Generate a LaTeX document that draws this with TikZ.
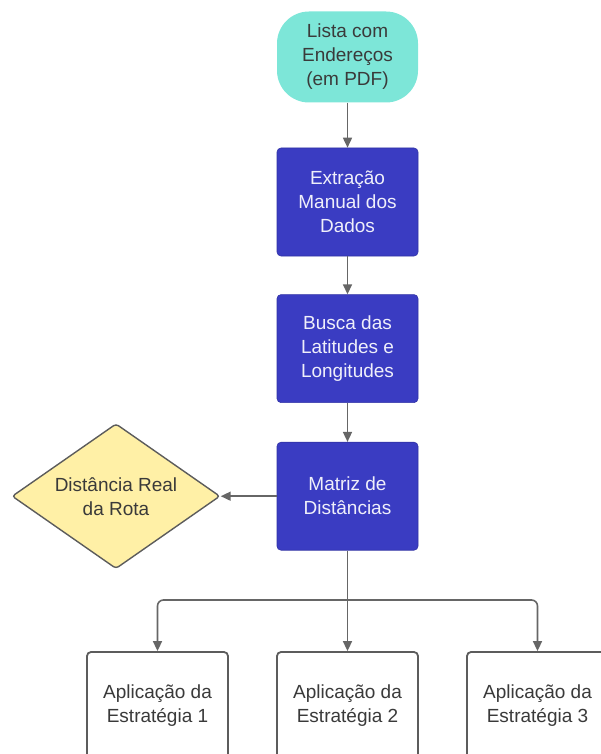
\documentclass[tikz,border=0pt]{standalone}
\usepackage{fontspec}
\setmainfont{Liberation Sans}
\usepackage{tikz}
\usetikzlibrary{positioning,shapes.geometric,arrows.meta}

\definecolor{turquesa}{HTML}{7DE6D8}
\definecolor{azul}{HTML}{3A3CC2}
\definecolor{amarelo}{HTML}{FFF0A6}
\definecolor{cinza}{HTML}{666666}
\definecolor{texto}{HTML}{3A3A3A}

\tikzset{
  base/.style={align=center, font=\fontsize{19}{24}\selectfont, inner sep=0pt},
  inicio/.style={base, fill=turquesa, text=texto, rounded corners=32pt,
    minimum width=141pt, minimum height=91pt},
  passo/.style={base, fill=azul, draw=azul!85!black, line width=0.6pt, text=white!92!azul,
    rounded corners=4pt, minimum width=141pt, minimum height=108pt},
  decisao/.style={base, diamond, aspect=1.43, fill=amarelo, draw=cinza!90!black,
    line width=1.4pt, text=texto, rounded corners=3pt,
    minimum width=208pt, minimum height=145pt},
  aplic/.style={base, fill=white, draw=cinza!90!black, line width=1.8pt, text=texto,
    rounded corners=4pt, minimum width=141pt, minimum height=108pt},
  linha/.style={draw=cinza, line width=1.6pt},
  seta/.style={linha, -{Triangle[length=10pt,width=9pt]}}
}

\begin{document}
\begin{tikzpicture}[x=1pt,y=1pt]
    \useasboundingbox (0,0) rectangle (600,-754);

    % Fluxo principal
    \node [inicio] (lista) at (347.5,-57) {Lista com\\Endereços\\(em PDF)};
    \node [passo, below=45pt of lista] (extracao) {Extração\\Manual dos\\Dados};
    \node [passo, below=38pt of extracao] (busca) {Busca das\\Latitudes e\\Longitudes};
    \node [passo, below=39pt of busca] (matriz) {Matriz de\\Distâncias};

    \draw [seta] (lista) -- (extracao);
    \draw [seta] (extracao) -- (busca);
    \draw [seta] (busca) -- (matriz);

    % Distancia real
    \node [decisao, left=56pt of matriz] (real) {Distância Real\\da Rota};
    \draw [seta] (matriz) -- (real);

    % Estrategias
    \node [aplic] (ap1) at (157.5,-706) {Aplicação da\\Estratégia 1};
    \node [aplic] (ap2) at (347.5,-706) {Aplicação da\\Estratégia 2};
    \node [aplic] (ap3) at (537.5,-706) {Aplicação da\\Estratégia 3};

    \coordinate (divisao) at (347.5,-600);
    \draw [linha] (matriz) -- (divisao);
    \draw [seta, rounded corners=6pt] (divisao) -| (ap1);
    \draw [seta] (divisao) -- (ap2);
    \draw [seta, rounded corners=6pt] (divisao) -| (ap3);
\end{tikzpicture}
\end{document}
